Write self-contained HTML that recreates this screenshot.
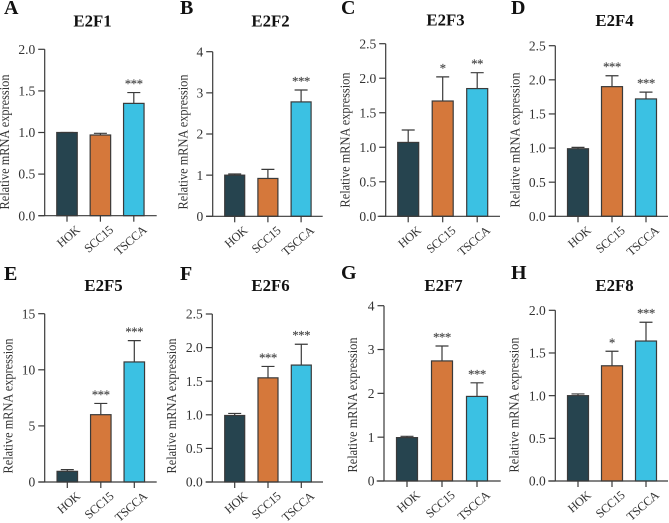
<!DOCTYPE html>
<html lang="en">
<head>
<meta charset="utf-8">
<title>E2F family mRNA expression</title>
<style>
html,body{margin:0;padding:0;background:#fff;width:669px;height:523px;overflow:hidden}
svg{display:block;filter:blur(0.3px)}
text{font-family:"Liberation Serif","Times New Roman",serif;fill:#333}
</style>
</head>
<body>
<svg id="fig" xmlns="http://www.w3.org/2000/svg" width="669" height="523" viewBox="0 0 669 523"></svg>
<script>
// ---- Data ----
const categories = ['HOK', 'SCC15', 'TSCCA'];
const panelLetters = ['A', 'B', 'C', 'D', 'E', 'F', 'G', 'H'];
const panelTitles = ['E2F1', 'E2F2', 'E2F3', 'E2F4', 'E2F5', 'E2F6', 'E2F7', 'E2F8'];

const e2f1Means = [1.0, 0.97, 1.35];
const e2f1Upper = [1.0, 0.99, 1.48];
const e2f1Stars = ['', '', '***'];
const e2f1Ticks = ['0.0', '0.5', '1.0', '1.5', '2.0'];

const e2f2Means = [1.0, 0.92, 2.78];
const e2f2Upper = [1.03, 1.14, 3.07];
const e2f2Stars = ['', '', '***'];
const e2f2Ticks = ['0', '1', '2', '3', '4'];

const e2f3Means = [1.07, 1.67, 1.85];
const e2f3Upper = [1.25, 2.02, 2.08];
const e2f3Stars = ['', '*', '**'];
const e2f3Ticks = ['0.0', '0.5', '1.0', '1.5', '2.0', '2.5'];

const e2f4Means = [0.99, 1.9, 1.72];
const e2f4Upper = [1.01, 2.06, 1.82];
const e2f4Stars = ['', '***', '***'];
const e2f4Ticks = ['0.0', '0.5', '1.0', '1.5', '2.0', '2.5'];

const e2f5Means = [0.95, 6.0, 10.7];
const e2f5Upper = [1.1, 7.0, 12.6];
const e2f5Stars = ['', '***', '***'];
const e2f5Ticks = ['0', '5', '10', '15'];

const e2f6Means = [0.99, 1.55, 1.74];
const e2f6Upper = [1.02, 1.72, 2.05];
const e2f6Stars = ['', '***', '***'];
const e2f6Ticks = ['0.0', '0.5', '1.0', '1.5', '2.0', '2.5'];

const e2f7Means = [0.99, 2.74, 1.93];
const e2f7Upper = [1.02, 3.08, 2.24];
const e2f7Stars = ['', '***', '***'];
const e2f7Ticks = ['0', '1', '2', '3', '4'];

const e2f8Means = [1.0, 1.35, 1.64];
const e2f8Upper = [1.02, 1.52, 1.86];
const e2f8Stars = ['', '*', '***'];
const e2f8Ticks = ['0.0', '0.5', '1.0', '1.5', '2.0'];

const allMeans = [e2f1Means, e2f2Means, e2f3Means, e2f4Means, e2f5Means, e2f6Means, e2f7Means, e2f8Means];
const allUpper = [e2f1Upper, e2f2Upper, e2f3Upper, e2f4Upper, e2f5Upper, e2f6Upper, e2f7Upper, e2f8Upper];
const allStars = [e2f1Stars, e2f2Stars, e2f3Stars, e2f4Stars, e2f5Stars, e2f6Stars, e2f7Stars, e2f8Stars];
const allTicks = [e2f1Ticks, e2f2Ticks, e2f3Ticks, e2f4Ticks, e2f5Ticks, e2f6Ticks, e2f7Ticks, e2f8Ticks];

// ---- Layout (pixel frames of each small chart; not data) ----
const frames = [
  {ax:44.7, y0:215.7, top:49.3, xs:38.5, xe:156.7, c0:67, step:33.4, bw:20.5, lx:9, ly:142, tx:92.5, ty:26.7, px:4, py:14},
  {ax:212.7, y0:216.3, top:51.7, xs:206, xe:322.7, c0:234.7, step:33.2, bw:20, lx:187.5, ly:142, tx:270.5, ty:26.7, px:180, py:14},
  {ax:385.7, y0:216.3, top:43.7, xs:377.7, xe:500, c0:408.2, step:34.5, bw:21, lx:349.5, ly:140, tx:445.5, ty:25.3, px:341, py:14},
  {ax:555.3, y0:216.3, top:45.7, xs:548.3, xe:668, c0:578, step:34, bw:21, lx:519.5, ly:140, tx:614.5, ty:26, px:511, py:14},
  {ax:44.7, y0:482, top:313.7, xs:38.5, xe:156.7, c0:67.3, step:33.5, bw:20.5, lx:12.5, ly:406, tx:103.5, ty:291, px:4, py:280},
  {ax:212.3, y0:482, top:314, xs:205.7, xe:323, c0:234.7, step:33.3, bw:20, lx:176.2, ly:406, tx:270.5, ty:291, px:180, py:280},
  {ax:384, y0:481, top:305.7, xs:376.7, xe:500.7, c0:407, step:35, bw:21, lx:357.2, ly:405, tx:443.5, ty:291, px:341, py:279},
  {ax:555.3, y0:481, top:310.3, xs:548.3, xe:668, c0:578, step:34, bw:21, lx:518.5, ly:405, tx:614.5, ty:291, px:511, py:279}
];
const barColors = ['#26444f', '#d5783b', '#3bc1e3'];
const inkColor = '#3a3a3a';

// ---- Drawing ----
const SVG_NS = 'http://www.w3.org/2000/svg';
const fig = document.getElementById('fig');

function make(tag, parent, props) {
  const node = document.createElementNS(SVG_NS, tag);
  for (const key in props) node.setAttribute(key, props[key]);
  parent.appendChild(node);
  return node;
}

panelTitles.forEach(function (title, p) {
  const f = frames[p];
  const means = allMeans[p];
  const upper = allUpper[p];
  const stars = allStars[p];
  const ticks = allTicks[p];
  const yMax = parseFloat(ticks[ticks.length - 1]);
  const yMin = parseFloat(ticks[0]);
  const yScale = function (v) { return f.y0 - (v - yMin) / (yMax - yMin) * (f.y0 - f.top); };
  const xScale = function (i) { return f.c0 + i * f.step; };
  const key = title.toLowerCase();

  const g = make('g', fig, {});
  
  

  const letter = make('text', g, {x: f.px, y: f.py, 'font-size': 20, 'font-weight': 'bold'});
  letter.style.fill = '#111';
  letter.textContent = panelLetters[p];
  
  

  const head = make('text', g, {x: f.tx, y: f.ty, 'font-size': 16.8, 'font-weight': 'bold', 'text-anchor': 'middle'});
  head.style.fill = '#111';
  head.textContent = title;
  
  

  const yTitle = make('text', g, {x: 0, y: 0, 'font-size': 13.8, 'text-anchor': 'middle', textLength: 135, lengthAdjust: 'spacingAndGlyphs', transform: 'translate(' + f.lx + ' ' + f.ly + ') rotate(-90)'});
  yTitle.textContent = 'Relative mRNA expression';
  
  

  categories.forEach(function (cat, i) {
    const cx = xScale(i);
    const whisker = make('path', g, {
      d: 'M' + cx + ' ' + yScale(means[i]) + 'V' + yScale(upper[i]) + 'M' + (cx - 6.5) + ' ' + yScale(upper[i]) + 'H' + (cx + 6.5),
      fill: 'none', stroke: inkColor, 'stroke-width': 1.2
    });
    
    

    const bar = make('rect', g, {
      x: cx - f.bw / 2, y: yScale(means[i]), width: f.bw, height: f.y0 - yScale(means[i]),
      fill: barColors[i], stroke: inkColor, 'stroke-width': 1.2
    });
    
    

    if (stars[i]) {
      const sig = make('text', g, {x: cx, y: yScale(upper[i]) - 4.5, 'font-size': 12.5, 'text-anchor': 'middle', 'letter-spacing': -0.3, stroke: '#444', 'stroke-width': 0.15});
      sig.style.fill = '#444';
      sig.textContent = stars[i];
      
      
    }

    const tick = make('line', g, {x1: cx, x2: cx, y1: f.y0, y2: f.y0 + 6, stroke: inkColor, 'stroke-width': 1.2});
    
    

    const label = make('text', g, {x: 0, y: 0, 'font-size': 12.3, 'letter-spacing': -0.4, 'text-anchor': 'end', transform: 'translate(' + (cx + 13.5) + ' ' + (f.y0 + 15.5) + ') rotate(-41)'});
    label.textContent = cat;
    
    
  });

  ticks.forEach(function (t) {
    const ty = yScale(parseFloat(t));
    const tick = make('line', g, {x1: f.ax - 6.5, x2: f.ax, y1: ty, y2: ty, stroke: inkColor, 'stroke-width': 1.2});
    
    

    const label = make('text', g, {x: f.ax - 9.5, y: ty + 4.6, 'font-size': 13.5, 'text-anchor': 'end'});
    label.textContent = t;
    
    
  });

  const yAxis = make('line', g, {x1: f.ax, x2: f.ax, y1: f.top, y2: f.y0, stroke: inkColor, 'stroke-width': 1.2});
  
  

  const xAxis = make('line', g, {x1: f.xs, x2: f.xe, y1: f.y0, y2: f.y0, stroke: inkColor, 'stroke-width': 1.2});
  
  
});
</script>
</body>
</html>
